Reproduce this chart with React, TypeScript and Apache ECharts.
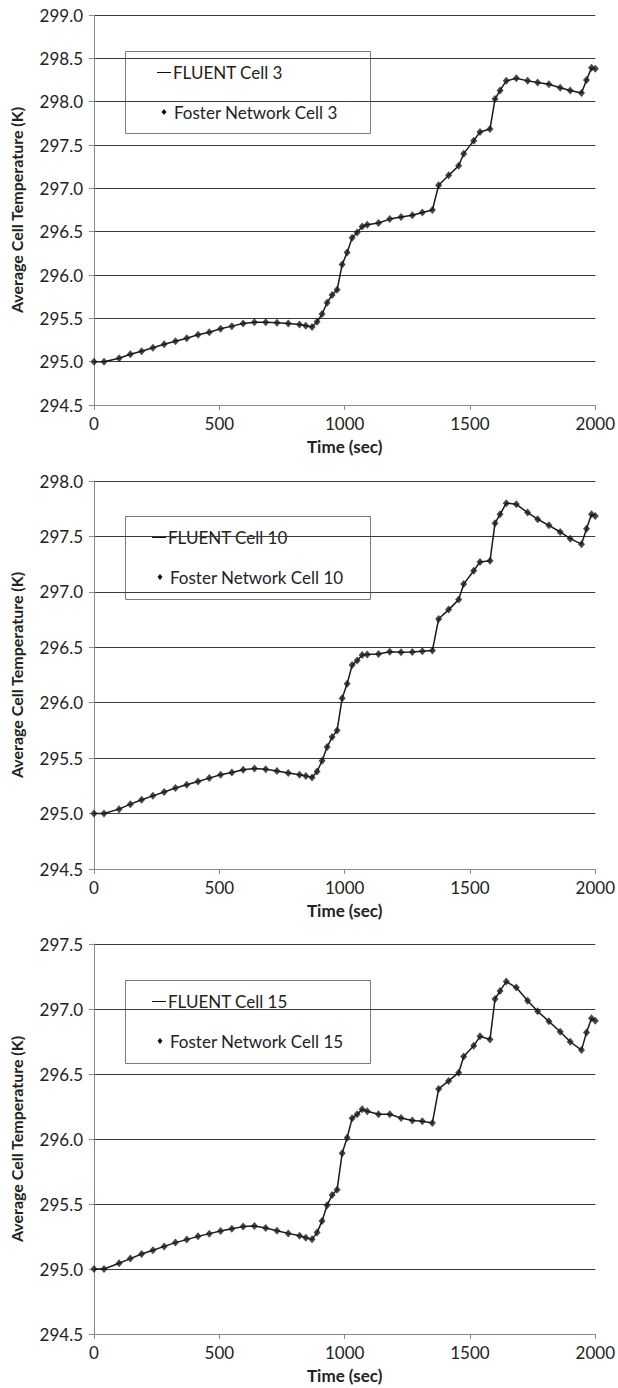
import React, { useEffect, useRef } from "react";
import * as echarts from "echarts";

// Sample times (s) shared by all three cells
const TIME_SEC = [
  0, 40, 100, 145, 190, 235, 280, 325, 370, 415,
  460, 505, 550, 595, 640, 685, 730, 775, 820, 845,
  870, 890, 910, 930, 950, 970, 990, 1010, 1030, 1050,
  1070, 1090, 1135, 1180, 1225, 1270, 1310, 1350, 1375, 1415,
  1455, 1475, 1515, 1540, 1580, 1600, 1620, 1645, 1685, 1730,
  1770, 1815, 1860, 1900, 1945, 1965, 1985, 2000,
];

// Average cell temperature (K)
const CELL_3_TEMP = [
  295.0, 295.0, 295.04, 295.085, 295.12, 295.16, 295.2, 295.235, 295.27, 295.31,
  295.34, 295.38, 295.41, 295.44, 295.455, 295.455, 295.45, 295.44, 295.43, 295.415,
  295.4, 295.46, 295.55, 295.68, 295.77, 295.83, 296.12, 296.26, 296.43, 296.49,
  296.56, 296.58, 296.6, 296.645, 296.67, 296.69, 296.72, 296.75, 297.035, 297.15,
  297.26, 297.4, 297.55, 297.65, 297.685, 298.03, 298.13, 298.24, 298.27, 298.24,
  298.22, 298.2, 298.16, 298.13, 298.1, 298.25, 298.39, 298.38,
];

const CELL_10_TEMP = [
  295.0, 295.0, 295.04, 295.085, 295.125, 295.16, 295.195, 295.23, 295.26, 295.29,
  295.32, 295.35, 295.37, 295.395, 295.407, 295.4, 295.383, 295.365, 295.35, 295.34,
  295.325, 295.38, 295.476, 295.6, 295.69, 295.75, 296.04, 296.17, 296.34, 296.38,
  296.43, 296.435, 296.44, 296.46, 296.455, 296.458, 296.464, 296.47, 296.755, 296.84,
  296.93, 297.07, 297.19, 297.27, 297.28, 297.62, 297.7, 297.8, 297.79, 297.715,
  297.655, 297.6, 297.54, 297.48, 297.43, 297.57, 297.7, 297.685,
];

const CELL_15_TEMP = [
  295.0, 295.0, 295.044, 295.08, 295.115, 295.144, 295.174, 295.203, 295.226, 295.251,
  295.272, 295.292, 295.31, 295.326, 295.331, 295.315, 295.295, 295.274, 295.256, 295.24,
  295.228, 295.28, 295.37, 295.49, 295.57, 295.61, 295.89, 296.01, 296.16, 296.19,
  296.228, 296.213, 296.19, 296.19, 296.161, 296.143, 296.136, 296.123, 296.385, 296.447,
  296.51, 296.635, 296.717, 296.79, 296.766, 297.077, 297.139, 297.211, 297.165, 297.064,
  296.982, 296.905, 296.825, 296.748, 296.684, 296.82, 296.928, 296.91,
];

const CELL_IDS = ["3", "10", "15"];
const CELL_SERIES = [CELL_3_TEMP, CELL_10_TEMP, CELL_15_TEMP];
const Y_MIN = 294.5;
const Y_MAX = [299.0, 298.0, 297.5];
const Y_STEP = 0.5;
const X_MIN = 0;
const X_MAX = 2000;
const X_STEP = 500;

const FONT = "Lato, 'Open Sans', sans-serif";
const TEXT_COLOR = "#222";

// Panel placement (px)
const PANEL_LAYOUT = [
  { top: 15, bottom: 405, boxTop: 51, boxBottom: 133, lineX: 157, diamondX: 164 },
  { top: 481, bottom: 869, boxTop: 516, boxBottom: 599, lineX: 152, diamondX: 160 },
  { top: 944, bottom: 1334, boxTop: 980, boxBottom: 1063, lineX: 152, diamondX: 160 },
];
const PLOT_LEFT = 91;
const PLOT_RIGHT = 597;
const WIDTH = 618;
const HEIGHT = 1388;

function buildOption() {
  const grid: any[] = [];
  const xAxis: any[] = [];
  const yAxis: any[] = [];
  const series: any[] = [];
  const graphic: any[] = [];

  CELL_IDS.forEach((cell, i) => {
    const L = PANEL_LAYOUT[i];
    const pts = TIME_SEC.map((t, k) => [t, CELL_SERIES[i][k]]);

    grid.push({
      left: PLOT_LEFT,
      width: PLOT_RIGHT - PLOT_LEFT,
      top: L.top,
      height: L.bottom - L.top,
      containLabel: false,
    });

    xAxis.push({
      type: "value",
      gridIndex: i,
      min: X_MIN,
      max: X_MAX,
      interval: X_STEP,
      axisLine: { show: true, lineStyle: { color: "#8a8a8a", width: 1 } },
      axisTick: { show: true, length: 5, lineStyle: { color: "#8a8a8a" } },
      axisLabel: {
        fontSize: 17,
        color: TEXT_COLOR,
        fontFamily: FONT,
        margin: 10,
        formatter: (v: number) => String(v),
      },
      splitLine: { show: false },
      name: "Time (sec)",
      nameLocation: "middle",
      nameGap: 33,
      nameTextStyle: { fontSize: 17, fontWeight: "bold", color: TEXT_COLOR, fontFamily: FONT },
    });

    yAxis.push({
      type: "value",
      gridIndex: i,
      min: Y_MIN,
      max: Y_MAX[i],
      interval: Y_STEP,
      axisLine: { show: true, lineStyle: { color: "#8a8a8a", width: 1 } },
      axisTick: { show: true, length: 5, lineStyle: { color: "#8a8a8a" } },
      axisLabel: {
        fontSize: 17,
        color: TEXT_COLOR,
        fontFamily: FONT,
        margin: 11,
        formatter: (v: number) => v.toFixed(1),
      },
      splitLine: { show: true, lineStyle: { color: "#3a3a3a", width: 1 } },
      name: "Average Cell Temperature (K)",
      nameLocation: "middle",
      nameGap: 70,
      nameTextStyle: { fontSize: 16, fontWeight: "bold", color: TEXT_COLOR, fontFamily: FONT },
    });

    series.push({
      name: `FLUENT Cell ${cell}`,
      type: "line",
      xAxisIndex: i,
      yAxisIndex: i,
      data: pts,
      showSymbol: false,
      symbol: "none",
      lineStyle: { color: "#1a1a1a", width: 1.5 },
      z: 3,
    });
    series.push({
      name: `Foster Network Cell ${cell}`,
      type: "scatter",
      xAxisIndex: i,
      yAxisIndex: i,
      data: pts,
      symbol: "diamond",
      symbolSize: [7, 8],
      itemStyle: { color: "#1a1a1a" },
      z: 4,
    });

    // Legend box
    const y1 = L.boxTop + 21;
    const y2 = L.boxTop + 61;
    const dx = L.diamondX;
    graphic.push({
      type: "group",
      z: 10,
      children: [
        {
          type: "rect",
          shape: { x: 125.5, y: L.boxTop + 0.5, width: 245, height: L.boxBottom - L.boxTop },
          style: { fill: "#fff", stroke: "#7a7a7a", lineWidth: 1 },
        },
        {
          type: "line",
          shape: { x1: L.lineX, y1: y1 + 0.5, x2: L.lineX + 14, y2: y1 + 0.5 },
          style: { stroke: "#111", lineWidth: 1 },
        },
        {
          type: "text",
          x: L.lineX + 16,
          y: y1,
          style: {
            text: `FLUENT Cell ${cell}`,
            font: `17px ${FONT}`,
            fill: TEXT_COLOR,
            verticalAlign: "middle",
            align: "left",
          },
        },
        {
          type: "polygon",
          shape: {
            points: [
              [dx, y2 - 3],
              [dx + 2.5, y2],
              [dx, y2 + 3],
              [dx - 2.5, y2],
            ],
          },
          style: { fill: "#111" },
        },
        {
          type: "text",
          x: dx + 10,
          y: y2,
          style: {
            text: `Foster Network Cell ${cell}`,
            font: `17px ${FONT}`,
            fill: TEXT_COLOR,
            verticalAlign: "middle",
            align: "left",
          },
        },
      ],
    });
  });

  return {
    animation: false,
    backgroundColor: "#fff",
    textStyle: { fontFamily: FONT },
    grid,
    xAxis,
    yAxis,
    series,
    graphic,
  };
}

export default function App() {
  const ref = useRef<HTMLDivElement>(null);

  useEffect(() => {
    if (!ref.current) return;
    const chart = echarts.init(ref.current, undefined, { renderer: "svg" });
    chart.setOption(buildOption());
    return () => chart.dispose();
  }, []);

  return (
    <div
      ref={ref}
      style={{
        position: "absolute",
        left: 0,
        top: 0,
        width: WIDTH,
        height: HEIGHT,
        background: "#fff",
      }}
    />
  );
}
